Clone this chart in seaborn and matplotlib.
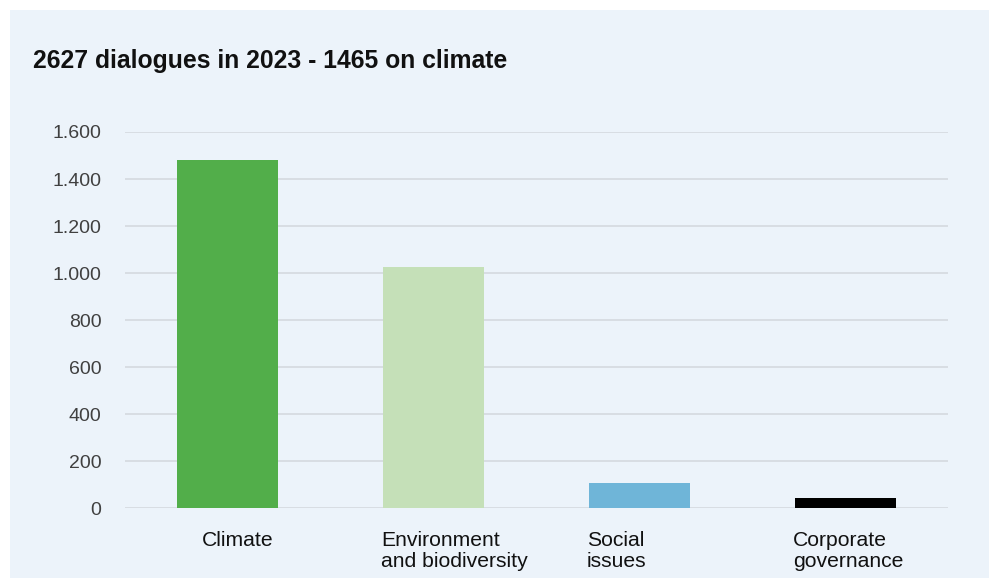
import numpy as np
import pandas as pd
import seaborn as sns
import matplotlib.pyplot as plt
from matplotlib.patches import Rectangle
from matplotlib.ticker import FuncFormatter

# data
categories = ["Climate", "Environment\nand biodiversity", "Social\nissues", "Corporate\ngovernance"]
dialogues = [1483, 1025, 107, 42]
bar_colors = ["#52ae4a", "#c5e0b8", "#6fb5d8", "#000000"]
title = "2627 dialogues in 2023 - 1465 on climate"

panel_color = "#ecf3fa"
grid_color = "#d3d7dc"

sns.set_style("white")
plt.rcParams["font.family"] = ["Liberation Sans", "DejaVu Sans"]

df = pd.DataFrame({"topic": categories, "count": dialogues})

fig = plt.figure(figsize=(9.89, 5.78), dpi=100)
fig.patches.append(Rectangle((10 / 989, 0), 1, 1 - 10 / 578, transform=fig.transFigure,
                             facecolor=panel_color, edgecolor="none", zorder=-10))

ax = fig.add_axes([125 / 989, 69.7 / 578, 823 / 989, 376.3 / 578])
ax.set_facecolor("none")

bar_w = 0.49
sns.barplot(data=df, x="topic", y="count", hue="topic", palette=bar_colors,
            width=bar_w, linewidth=0, saturation=1, legend=False, ax=ax, zorder=3)

ax.set_xlim(-0.5, len(categories) - 0.5)
ax.set_ylim(0, 1600)
ax.set_yticks(np.arange(0, 1601, 200))
ax.yaxis.set_major_formatter(FuncFormatter(lambda v, p: f"{int(v):,}".replace(",", ".")))
ax.tick_params(axis="y", length=0, pad=17, labelsize=14, labelcolor="#404040")
ax.grid(axis="y", color=grid_color, linewidth=1.1, zorder=0)
ax.set_axisbelow(True)
for s in ax.spines.values():
    s.set_visible(False)

# category labels, left aligned under the bars
ax.set_xticks([])
ax.set_xlabel("")
ax.set_ylabel("")
for i, lab in enumerate(categories):
    x = i - bar_w / 2 + (0.12 if "\n" not in lab else -0.01)
    ax.text(x, -0.06, lab, transform=ax.get_xaxis_transform(), ha="left", va="top",
            fontsize=15.2, color="#111111", linespacing=1.15, multialignment="left")

fig.text(33 / 989, 1 - 68 / 578, title, fontsize=17.8, fontweight="bold",
         color="#111111", ha="left", va="baseline")

fig.savefig("out.png", dpi=100)
